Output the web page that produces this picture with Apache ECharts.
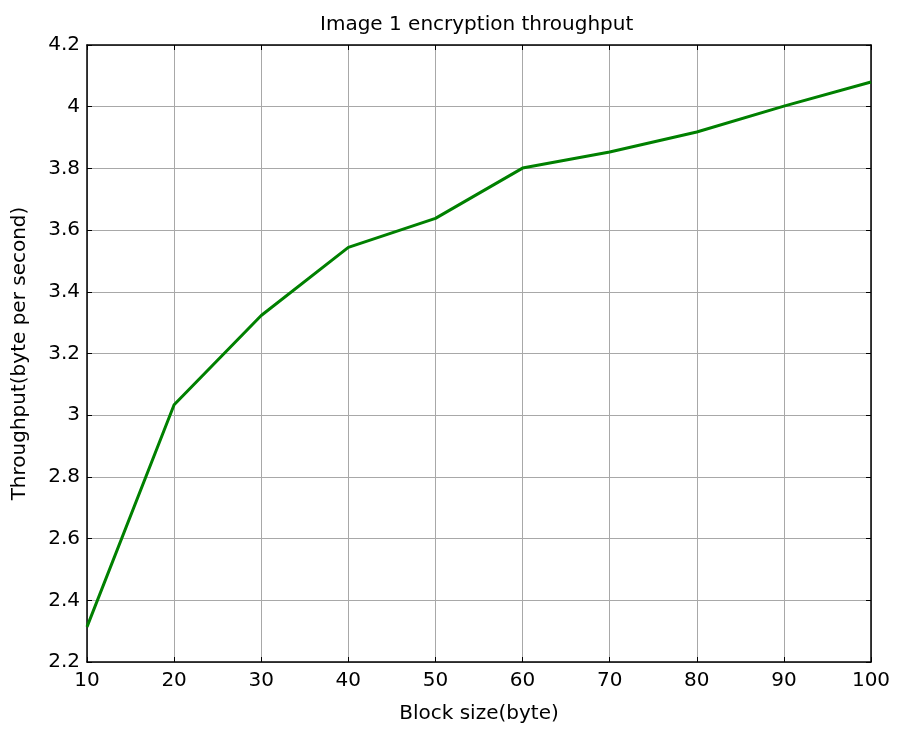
<!DOCTYPE html>
<html><head><meta charset="utf-8">
<script src="https://cdn.jsdelivr.net/npm/echarts@6/dist/echarts.min.js"></script>
<style>html,body{margin:0;padding:0;background:#fff}#c{width:897px;height:732px}</style>
</head><body><div id="c"></div>
<script>
const blockSizes = [10, 20, 30, 40, 50, 60, 70, 80, 90, 100];
const throughput = [2.314, 3.034, 3.323, 3.544, 3.638, 3.801, 3.853, 3.918, 4.002, 4.080];
const titleText = 'Image 1 encryption throughput';
const xName = 'Block size(byte)';
const yName = 'Throughput(byte per second)';

const font = '"DejaVu Sans", sans-serif';
const chart = echarts.init(document.getElementById('c'));
const axisCommon = {
  axisLine: {show: true, onZero: false, lineStyle: {color: '#000', width: 1.5}},
  axisTick: {show: true, inside: true, length: 5, lineStyle: {color: '#000'}},
};
chart.setOption({
  animation: false,
  title: {text: titleText, left: 315, top: 10, textStyle: {fontFamily: font, fontSize: 20, fontWeight: 'normal', color: '#000'}},
  grid: {left: 87, right: 26, top: 45, bottom: 70, containLabel: false},
  xAxis: [
    Object.assign({type: 'value', min: 10, max: 100, interval: 10, position: 'bottom',
      name: xName, nameLocation: 'middle', nameGap: 42,
      nameTextStyle: {fontFamily: font, fontSize: 20, color: '#000'},
      axisLabel: {fontFamily: font, fontSize: 20, color: '#000', margin: 9},
      splitLine: {show: true, lineStyle: {color: '#a8a8a8', width: 1}}}, axisCommon),
    Object.assign({type: 'value', min: 10, max: 100, interval: 10, position: 'top',
      axisLabel: {show: false}, splitLine: {show: false}}, axisCommon)
  ],
  yAxis: [
    Object.assign({type: 'value', min: 2.2, max: 4.2, interval: 0.2, position: 'left',
      name: yName, nameLocation: 'middle', nameGap: 57,
      nameTextStyle: {fontFamily: font, fontSize: 20, color: '#000'},
      axisLabel: {fontFamily: font, fontSize: 20, color: '#000', margin: 7,
        formatter: v => String(Math.round(v * 10) / 10)},
      splitLine: {show: true, lineStyle: {color: '#a8a8a8', width: 1}}}, axisCommon),
    Object.assign({type: 'value', min: 2.2, max: 4.2, interval: 0.2, position: 'right',
      axisLabel: {show: false}, splitLine: {show: false}}, axisCommon)
  ],
  series: [{
    type: 'line',
    data: blockSizes.map((x, i) => [x, throughput[i]]),
    symbol: 'none',
    lineStyle: {color: '#008000', width: 3},
    itemStyle: {color: '#008000'}
  }]
});
</script></body></html>
